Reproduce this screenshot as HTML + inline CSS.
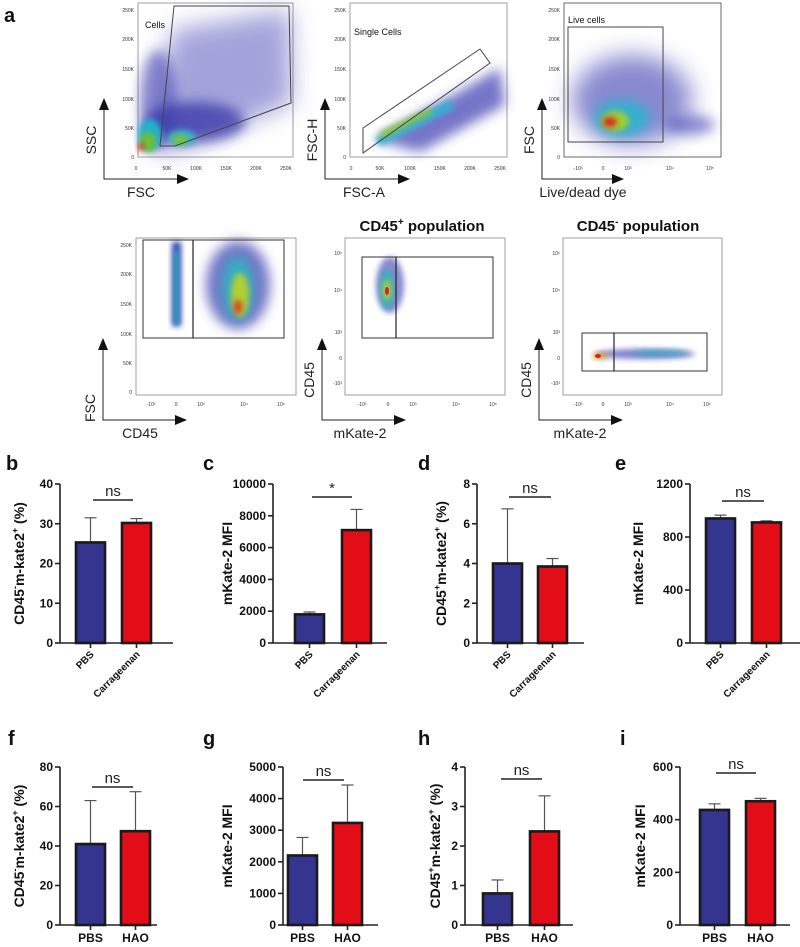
<!DOCTYPE html>
<html><head><meta charset="utf-8"><style>
body{margin:0;background:#fff;}
svg{display:block;font-family:"Liberation Sans",Arial,sans-serif;}
.tk{font-size:5px;fill:#333;}
.al{font-size:14px;fill:#222;}
.lt{font-size:20px;font-weight:bold;fill:#111;}
.bt{font-size:12px;font-weight:bold;fill:#111;}
.yl{font-size:14px;font-weight:bold;fill:#111;}
</style></head><body>
<svg id="fig" width="800" height="947" viewBox="0 0 800 947">
<defs>
<filter id="b3" x="-50%" y="-50%" width="200%" height="200%"><feGaussianBlur stdDeviation="3"/></filter>
<filter id="b6" x="-50%" y="-50%" width="200%" height="200%"><feGaussianBlur stdDeviation="6"/></filter>
<filter id="b12" x="-50%" y="-50%" width="200%" height="200%"><feGaussianBlur stdDeviation="12"/></filter>
</defs>
<text class="lt" x="4" y="22">a</text>

<g>
<rect x="138" y="3" width="155" height="154" fill="#fff" stroke="#888" stroke-width="0.8"/>
<path d="M150,150 L172,30 L290,10 L292,103 L180,150 z" fill="#4a4ab8" opacity="0.5" filter="url(#b12)"/>
<ellipse cx="158" cy="100" rx="18" ry="50" fill="#4040b0" opacity="0.6" filter="url(#b6)"/>
<ellipse cx="195" cy="122" rx="50" ry="20" fill="#3535a8" opacity="0.75" filter="url(#b6)"/>
<ellipse cx="150" cy="135" rx="12" ry="16" fill="#20b0d0" filter="url(#b3)"/>
<ellipse cx="182" cy="138" rx="14" ry="8" fill="#30b8c8" filter="url(#b3)"/>
<ellipse cx="148" cy="142" rx="8" ry="10" fill="#70c030" filter="url(#b3)"/>
<ellipse cx="180" cy="140" rx="8" ry="5" fill="#80c030" filter="url(#b3)"/>
<ellipse cx="141" cy="147" rx="3" ry="4" fill="#e02020" filter="url(#b3)"/>
<polygon points="160,146 174,6 289,6 291,103 175,146" fill="none" stroke="#444" stroke-width="1"/>
<text x="145" y="28" font-size="9" fill="#111">Cells</text>
<text class="tk" x="136" y="170" text-anchor="middle">0</text><text class="tk" x="167" y="170" text-anchor="middle">50K</text><text class="tk" x="196" y="170" text-anchor="middle">100K</text><text class="tk" x="226" y="170" text-anchor="middle">150K</text><text class="tk" x="256" y="170" text-anchor="middle">200K</text><text class="tk" x="286" y="170" text-anchor="middle">250K</text>
<text class="tk" x="134" y="12" text-anchor="end">250K</text><text class="tk" x="134" y="41" text-anchor="end">200K</text><text class="tk" x="134" y="71" text-anchor="end">150K</text><text class="tk" x="134" y="101" text-anchor="end">100K</text><text class="tk" x="134" y="130" text-anchor="end">50K</text><text class="tk" x="134" y="159" text-anchor="end">0</text>
</g>
<g>
<polyline points="104,102 104,179 183,179" fill="none" stroke="#222" stroke-width="1"/>
<path d="M99,110 L104,98 L109,110 z" fill="#111"/><path d="M177,174 L189,179 L177,184 z" fill="#111"/>
<text class="al" x="96" y="140" transform="rotate(-90 96 140)" text-anchor="middle">SSC</text>
<text class="al" x="141" y="197" text-anchor="middle">FSC</text>
</g>

<g>
<rect x="350" y="3" width="157" height="154" fill="#fff" stroke="#888" stroke-width="0.8"/>
<path d="M375,140 L500,68 L505,105 L420,152 z" fill="#3b3bb0" opacity="0.7" filter="url(#b6)"/>
<path d="M375,138 L450,100 L455,108 L380,146 z" fill="#30b0d0" filter="url(#b3)"/>
<path d="M380,132 L430,108 L432,113 L382,138 z" fill="#90c830" filter="url(#b3)"/>
<polygon points="363,128 480,49 490,63 363,153" fill="none" stroke="#444" stroke-width="1"/>
<text x="354" y="35" font-size="9" fill="#111">Single Cells</text>
<text class="tk" x="351" y="170" text-anchor="middle">0</text><text class="tk" x="380" y="170" text-anchor="middle">50K</text><text class="tk" x="410" y="170" text-anchor="middle">100K</text><text class="tk" x="440" y="170" text-anchor="middle">150K</text><text class="tk" x="470" y="170" text-anchor="middle">200K</text><text class="tk" x="500" y="170" text-anchor="middle">250K</text>
<text class="tk" x="346" y="12" text-anchor="end">250K</text><text class="tk" x="346" y="41" text-anchor="end">200K</text><text class="tk" x="346" y="71" text-anchor="end">150K</text><text class="tk" x="346" y="101" text-anchor="end">100K</text><text class="tk" x="346" y="130" text-anchor="end">50K</text><text class="tk" x="346" y="159" text-anchor="end">0</text>
</g>
<g>
<polyline points="325,102 325,179 404,179" fill="none" stroke="#222" stroke-width="1"/>
<path d="M320,110 L325,98 L330,110 z" fill="#111"/><path d="M398,174 L410,179 L398,184 z" fill="#111"/>
<text class="al" x="317" y="140" transform="rotate(-90 317 140)" text-anchor="middle">FSC-H</text>
<text class="al" x="364" y="197" text-anchor="middle">FSC-A</text>
</g>

<g>
<rect x="564" y="3" width="157" height="154" fill="#fff" stroke="#444" stroke-width="0.8"/>
<ellipse cx="632" cy="100" rx="60" ry="45" fill="#3b3bb0" opacity="0.6" filter="url(#b12)"/>
<ellipse cx="690" cy="125" rx="25" ry="10" fill="#3b3bb0" opacity="0.55" filter="url(#b6)"/>
<ellipse cx="622" cy="118" rx="28" ry="18" fill="#30b0d0" filter="url(#b6)"/>
<ellipse cx="615" cy="121" rx="14" ry="10" fill="#a0d030" filter="url(#b3)"/>
<ellipse cx="610" cy="122" rx="7" ry="5" fill="#e02020" filter="url(#b3)"/>
<rect x="568" y="27" width="95" height="115" fill="none" stroke="#444" stroke-width="1"/>
<text x="568" y="23" font-size="9" fill="#111">Live cells</text>
<text class="tk" x="578" y="170" text-anchor="middle">-10³</text><text class="tk" x="603" y="170" text-anchor="middle">0</text><text class="tk" x="628" y="170" text-anchor="middle">10³</text><text class="tk" x="670" y="170" text-anchor="middle">10⁴</text><text class="tk" x="710" y="170" text-anchor="middle">10⁵</text>
<text class="tk" x="560" y="12" text-anchor="end">250K</text><text class="tk" x="560" y="41" text-anchor="end">200K</text><text class="tk" x="560" y="71" text-anchor="end">150K</text><text class="tk" x="560" y="101" text-anchor="end">100K</text><text class="tk" x="560" y="130" text-anchor="end">50K</text><text class="tk" x="560" y="159" text-anchor="end">0</text>
</g>
<g>
<polyline points="542,102 542,179 618,179" fill="none" stroke="#222" stroke-width="1"/>
<path d="M537,110 L542,98 L547,110 z" fill="#111"/><path d="M612,174 L624,179 L612,184 z" fill="#111"/>
<text class="al" x="534" y="140" transform="rotate(-90 534 140)" text-anchor="middle">FSC</text>
<text class="al" x="583" y="197" text-anchor="middle">Live/dead dye</text>
</g>

<g>
<rect x="136" y="238" width="160" height="157" fill="#fff" stroke="#888" stroke-width="0.8"/>
<rect x="172" y="242" width="9" height="84" fill="#3040b0" filter="url(#b3)"/>
<rect x="174" y="250" width="5" height="74" fill="#30b0c0" filter="url(#b3)"/>
<ellipse cx="238" cy="285" rx="32" ry="44" fill="#3b3bb0" opacity="0.7" filter="url(#b6)"/>
<ellipse cx="238" cy="288" rx="16" ry="32" fill="#30b0c0" filter="url(#b6)"/>
<ellipse cx="240" cy="295" rx="9" ry="22" fill="#b0d030" filter="url(#b3)"/>
<ellipse cx="238" cy="307" rx="4" ry="7" fill="#e03020" filter="url(#b3)"/>
<rect x="143" y="240" width="141" height="98" fill="none" stroke="#333" stroke-width="1"/>
<line x1="193" y1="240" x2="193" y2="338" stroke="#222" stroke-width="1.2"/>
<text class="tk" x="151" y="406" text-anchor="middle">-10³</text><text class="tk" x="176" y="406" text-anchor="middle">0</text><text class="tk" x="201" y="406" text-anchor="middle">10³</text><text class="tk" x="244" y="406" text-anchor="middle">10⁴</text><text class="tk" x="281" y="406" text-anchor="middle">10⁵</text>
<text class="tk" x="132" y="247" text-anchor="end">250K</text><text class="tk" x="132" y="276" text-anchor="end">200K</text><text class="tk" x="132" y="306" text-anchor="end">150K</text><text class="tk" x="132" y="336" text-anchor="end">100K</text><text class="tk" x="132" y="365" text-anchor="end">50K</text><text class="tk" x="132" y="394" text-anchor="end">0</text>
</g>
<g>
<polyline points="103,342 103,420 181,420" fill="none" stroke="#222" stroke-width="1"/>
<path d="M98,350 L103,338 L108,350 z" fill="#111"/><path d="M175,415 L187,420 L175,425 z" fill="#111"/>
<text class="al" x="95" y="408" transform="rotate(-90 95 408)" text-anchor="middle">FSC</text>
<text class="al" x="140" y="438" text-anchor="middle">CD45</text>
</g>

<text x="422" y="231" font-size="15" font-weight="bold" fill="#111" text-anchor="middle">CD45<tspan font-size="10" dy="-6">+</tspan><tspan dy="6"> population</tspan></text>
<g>
<rect x="345" y="238" width="160" height="157" fill="#fff" stroke="#888" stroke-width="0.8"/>
<ellipse cx="390" cy="285" rx="14" ry="28" fill="#3b3bb0" opacity="0.6" filter="url(#b3)"/>
<ellipse cx="387" cy="289" rx="7" ry="20" fill="#30b0c0" filter="url(#b3)"/>
<ellipse cx="387" cy="290" rx="4" ry="11" fill="#b0d030" filter="url(#b3)"/>
<ellipse cx="387" cy="291" rx="2" ry="4" fill="#e02020"/>
<rect x="362" y="257" width="131" height="81" fill="none" stroke="#333" stroke-width="1"/>
<line x1="396" y1="257" x2="396" y2="338" stroke="#222" stroke-width="1.2"/>
<text class="tk" x="362" y="406" text-anchor="middle">-10³</text><text class="tk" x="388" y="406" text-anchor="middle">0</text><text class="tk" x="413" y="406" text-anchor="middle">10³</text><text class="tk" x="456" y="406" text-anchor="middle">10⁴</text><text class="tk" x="493" y="406" text-anchor="middle">10⁵</text>
<text class="tk" x="342" y="255" text-anchor="end">10⁵</text><text class="tk" x="342" y="292" text-anchor="end">10⁴</text><text class="tk" x="342" y="334" text-anchor="end">10³</text><text class="tk" x="342" y="360" text-anchor="end">0</text><text class="tk" x="342" y="385" text-anchor="end">-10³</text>
</g>
<g>
<polyline points="322,342 322,420 400,420" fill="none" stroke="#222" stroke-width="1"/>
<path d="M317,350 L322,338 L327,350 z" fill="#111"/><path d="M394,415 L406,420 L394,425 z" fill="#111"/>
<text class="al" x="314" y="380" transform="rotate(-90 314 380)" text-anchor="middle">CD45</text>
<text class="al" x="360" y="438" text-anchor="middle">mKate-2</text>
</g>

<text x="638" y="231" font-size="15" font-weight="bold" fill="#111" text-anchor="middle">CD45<tspan font-size="10" dy="-6">-</tspan><tspan dy="6"> population</tspan></text>
<g>
<rect x="563" y="238" width="159" height="157" fill="#fff" stroke="#888" stroke-width="0.8"/>
<ellipse cx="645" cy="354" rx="50" ry="5" fill="#3b3bb0" opacity="0.65" filter="url(#b3)"/>
<ellipse cx="660" cy="353" rx="28" ry="3" fill="#30b0c0" opacity="0.8" filter="url(#b3)"/>
<ellipse cx="600" cy="356" rx="8" ry="3" fill="#e0a020" filter="url(#b3)"/>
<ellipse cx="598" cy="356" rx="3" ry="2" fill="#e02020"/>
<rect x="582" y="333" width="125" height="38" fill="none" stroke="#333" stroke-width="1"/>
<line x1="614" y1="333" x2="614" y2="371" stroke="#222" stroke-width="1.2"/>
<text class="tk" x="578" y="406" text-anchor="middle">-10³</text><text class="tk" x="603" y="406" text-anchor="middle">0</text><text class="tk" x="628" y="406" text-anchor="middle">10³</text><text class="tk" x="670" y="406" text-anchor="middle">10⁴</text><text class="tk" x="707" y="406" text-anchor="middle">10⁵</text>
<text class="tk" x="560" y="255" text-anchor="end">10⁵</text><text class="tk" x="560" y="292" text-anchor="end">10⁴</text><text class="tk" x="560" y="334" text-anchor="end">10³</text><text class="tk" x="560" y="360" text-anchor="end">0</text><text class="tk" x="560" y="385" text-anchor="end">-10³</text>
</g>
<g>
<polyline points="539,342 539,420 617,420" fill="none" stroke="#222" stroke-width="1"/>
<path d="M534,350 L539,338 L544,350 z" fill="#111"/><path d="M611,415 L623,420 L611,425 z" fill="#111"/>
<text class="al" x="531" y="380" transform="rotate(-90 531 380)" text-anchor="middle">CD45</text>
<text class="al" x="580" y="438" text-anchor="middle">mKate-2</text>
</g>

<g id="bars"></g>
</svg>
<script>
const groupsTop = ["PBS", "Carrageenan"];
const groupsBottom = ["PBS", "HAO"];
const meansB = [25.3, 30.2];  const errB = [31.5, 31.3];  const ticksB = [0,10,20,30,40];
const meansC = [1800, 7100];  const errC = [1950, 8400];  const ticksC = [0,2000,4000,6000,8000,10000];
const meansD = [4.0, 3.85];   const errD = [6.75, 4.25];  const ticksD = [0,2,4,6,8];
const meansE = [940, 910];    const errE = [965, 922];    const ticksE = [0,400,800,1200];
const meansF = [41, 47.5];    const errF = [63, 67.5];    const ticksF = [0,20,40,60,80];
const meansG = [2200, 3230];  const errG = [2770, 4430];  const ticksG = [0,1000,2000,3000,4000,5000];
const meansH = [0.8, 2.37];   const errH = [1.14, 3.27];  const ticksH = [0,1,2,3,4];
const meansI = [437, 470];    const errI = [460, 481];    const ticksI = [0,200,400,600];
const sigLabels = ["ns","*","ns","ns","ns","ns","ns","ns"];

const NS = "http://www.w3.org/2000/svg";
const root = document.getElementById('bars');
function mk(tag, attrs, parent, text){
  const e = document.createElementNS(NS, tag);
  for (const k in attrs) e.setAttribute(k, attrs[k]);
  if (text !== undefined) e.textContent = text;
  parent.appendChild(e); return e;
}
const layouts = [
 {id:'b',letter:[6,470],ax:60,top:484,bot:643,end:173,bx:[76,122],sig:[93,133,500],ylx:24,pos:'-',yl:'mkate'},
 {id:'c',letter:[203,470],ax:273,top:484,bot:643,end:387,bx:[295,342],sig:[312,352,497],ylx:232,yl:'mfi'},
 {id:'d',letter:[418,470],ax:477,top:484,bot:643,end:584,bx:[493,538],sig:[509,551,497],ylx:446,pos:'+',yl:'mkate'},
 {id:'e',letter:[615,470],ax:690,top:484,bot:643,end:800,bx:[706,752],sig:[722,764,501],ylx:643,yl:'mfi'},
 {id:'f',letter:[8,745],ax:60,top:767,bot:925,end:157,bx:[76,121],sig:[92,133,787],ylx:24,pos:'-',yl:'mkate'},
 {id:'g',letter:[203,745],ax:283,top:767,bot:925,end:378,bx:[288,333],sig:[303,344,780],ylx:232,yl:'mfi'},
 {id:'h',letter:[418,745],ax:465,top:767,bot:925,end:573,bx:[483,530],sig:[501,542,779],ylx:440,pos:'+',yl:'mkate'},
 {id:'i',letter:[620,745],ax:680,top:767,bot:925,end:790,bx:[700,746],sig:[716,756,773],ylx:645,yl:'mfi'}
];
const meansAll = [meansB,meansC,meansD,meansE,meansF,meansG,meansH,meansI];
const errAll = [errB,errC,errD,errE,errF,errG,errH,errI];
const ticksAll = [ticksB,ticksC,ticksD,ticksE,ticksF,ticksG,ticksH,ticksI];
const colors = ['#33358f','#e30d17'];
const BW = 29;

layouts.forEach((L, idx) => {
  const g = mk('g', {}, root);
  
  
  const ticks = ticksAll[idx];
  const maxV = ticks[ticks.length-1];
  const y = v => L.bot - (v / maxV) * (L.bot - L.top);
  const lt = mk('text', {x:L.letter[0], y:L.letter[1], 'class':'lt'}, g, L.id);
  
  
  mk('line', {x1:L.ax, y1:L.top, x2:L.ax, y2:L.bot, stroke:'#222','stroke-width':1.6}, g);
  mk('line', {x1:L.ax, y1:L.bot, x2:L.end, y2:L.bot, stroke:'#222','stroke-width':1.6}, g);
  ticks.forEach(t => {
    mk('line', {x1:L.ax-5, y1:y(t), x2:L.ax, y2:y(t), stroke:'#222','stroke-width':1.6}, g);
    const tl = mk('text', {x:L.ax-7, y:y(t)+4, 'text-anchor':'end', 'class':'bt'}, g, String(t));
    
    
  });
  const cy = (L.top + L.bot) / 2;
  const yl = mk('text', {x:L.ylx, y:cy, 'text-anchor':'middle', 'class':'yl', transform:'rotate(-90 '+L.ylx+' '+cy+')'}, g);
  
  
  if (L.yl === 'mfi') { yl.textContent = 'mKate-2 MFI'; }
  else {
    mk('tspan', {}, yl, 'CD45');
    mk('tspan', {dy:-6, 'font-size':9}, yl, L.pos);
    mk('tspan', {dy:6}, yl, 'm-kate2');
    mk('tspan', {dy:-6, 'font-size':9}, yl, '+');
    mk('tspan', {dy:6}, yl, ' (%)');
  }
  const groups = idx < 4 ? groupsTop : groupsBottom;
  meansAll[idx].forEach((m, j) => {
    const x0 = L.bx[j], xc = x0 + BW/2;
    const e = errAll[idx][j];
    const el = mk('line', {x1:xc, y1:y(e), x2:xc, y2:y(m), stroke:'#555','stroke-width':1.2}, g);
    
    
    mk('line', {x1:xc-6, y1:y(e), x2:xc+6, y2:y(e), stroke:'#555','stroke-width':1.2}, g);
    const r = mk('rect', {x:x0, y:y(m), width:BW, height:L.bot - y(m), fill:colors[j], stroke:'#1a1a1a','stroke-width':2.6}, g);
    
    
    mk('line', {x1:xc, y1:L.bot, x2:xc, y2:L.bot+5, stroke:'#222','stroke-width':1.6}, g);
    let lab;
    if (idx < 4) {
      const tx = xc + 4, ty = L.bot + 12;
      lab = mk('text', {x:tx, y:ty, 'text-anchor':'end', 'class':'bt', transform:'rotate(-45 '+tx+' '+ty+')'}, g, groups[j]);
      lab.setAttribute('style','font-size:10px');
    } else {
      lab = mk('text', {x:xc, y:L.bot+17, 'text-anchor':'middle', 'class':'bt'}, g, groups[j]);
    }
    
    
  });
  const s = mk('line', {x1:L.sig[0], y1:L.sig[2], x2:L.sig[1], y2:L.sig[2], stroke:'#222','stroke-width':1.5}, g);
  
  
  const st = mk('text', {x:(L.sig[0]+L.sig[1])/2, y:L.sig[2]-4, 'text-anchor':'middle', 'font-size':15, fill:'#222'}, g, sigLabels[idx]);
  
  
});
</script>
</body></html>
